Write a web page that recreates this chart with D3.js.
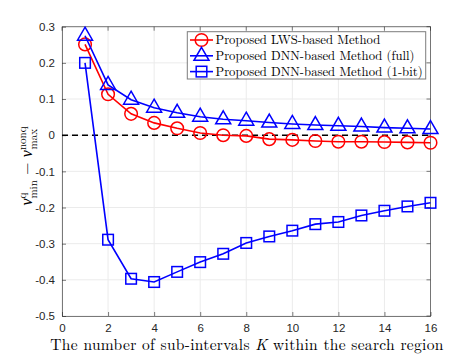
<!DOCTYPE html>
<html>
<head>
<meta charset="utf-8">
<script src="https://cdn.jsdelivr.net/npm/d3@7"></script>
<style>
body { margin: 0; background: #fff; }
</style>
</head>
<body>
<script>
var K = [1, 2, 3, 4, 5, 6, 7, 8, 9, 10, 11, 12, 13, 14, 15, 16];
var lws = [0.251, 0.113, 0.059, 0.034, 0.019, 0.006, 0.0, -0.002, -0.011, -0.013, -0.016, -0.018, -0.018, -0.019, -0.020, -0.021];
var dnnFull = [0.275, 0.139, 0.098, 0.076, 0.062, 0.051, 0.044, 0.040, 0.035, 0.031, 0.028, 0.026, 0.024, 0.021, 0.019, 0.017];
var dnn1bit = [0.200, -0.289, -0.397, -0.406, -0.378, -0.351, -0.328, -0.298, -0.280, -0.264, -0.246, -0.240, -0.222, -0.209, -0.197, -0.187];
var legendLabels = ["Proposed LWS-based Method", "Proposed DNN-based Method (full)", "Proposed DNN-based Method (1-bit)"];
var xTicks = [0, 2, 4, 6, 8, 10, 12, 14, 16];
var yTicks = [-0.5, -0.4, -0.3, -0.2, -0.1, 0, 0.1, 0.2, 0.3];

var svg = d3.select("body").append("svg")
    .attr("width", 476)
    .attr("height", 357);

var pL = 62, pR = 430.5, pT = 26.7, pB = 316;
var x = d3.scaleLinear().domain([0, 16]).range([pL, pR]);
var y = d3.scaleLinear().domain([-0.5, 0.3]).range([pB, pT]);

// grid
var grid = svg.append("g").attr("stroke", "#ebebeb").attr("stroke-width", 1);
grid.selectAll(".gx").data(xTicks).join("line")
    .attr("x1", d => x(d)).attr("x2", d => x(d))
    .attr("y1", pT).attr("y2", pB);
grid.append("g").selectAll("line").data(yTicks).join("line")
    .attr("x1", pL).attr("x2", pR)
    .attr("y1", d => y(d)).attr("y2", d => y(d));

// axes
var tickFont = "'Liberation Sans', Arial, sans-serif";
var xAxis = svg.append("g")
    .attr("transform", "translate(0," + pB + ")")
    .call(d3.axisBottom(x).tickValues(xTicks).tickSizeInner(-4).tickSizeOuter(0).tickPadding(8));
var yAxis = svg.append("g")
    .attr("transform", "translate(" + pL + ",0)")
    .call(d3.axisLeft(y).tickValues(yTicks).tickSizeInner(-4).tickSizeOuter(0).tickPadding(7)
        .tickFormat(d => Math.abs(d) < 1e-9 ? "0" : d3.format(".1f")(d).replace("\u2212", "-")));
[xAxis, yAxis].forEach(function (a) {
    a.select(".domain").attr("stroke", "#262626").attr("stroke-opacity", 0.6);
    a.selectAll(".tick line").attr("stroke", "#262626").attr("stroke-opacity", 0.6);
    a.selectAll(".tick text").attr("fill", "#262626")
        .style("font-family", tickFont).style("font-size", "11.5px");
});
// top and right box
svg.append("line").attr("x1", pL).attr("x2", pR).attr("y1", pT).attr("y2", pT)
    .attr("stroke", "#262626").attr("stroke-opacity", 0.6);
svg.append("line").attr("x1", pR).attr("x2", pR).attr("y1", pT).attr("y2", pB)
    .attr("stroke", "#262626").attr("stroke-opacity", 0.6);
svg.append("g").attr("stroke", "#262626").attr("stroke-opacity", 0.6)
    .selectAll("line").data(xTicks).join("line")
    .attr("x1", d => x(d)).attr("x2", d => x(d)).attr("y1", pT).attr("y2", pT + 4);
svg.append("g").attr("stroke", "#262626").attr("stroke-opacity", 0.6)
    .selectAll("line").data(yTicks).join("line")
    .attr("x1", pR).attr("x2", pR - 4).attr("y1", d => y(d)).attr("y2", d => y(d));

// zero dashed line
svg.append("line")
    .attr("x1", x(0)).attr("x2", x(16)).attr("y1", y(0)).attr("y2", y(0))
    .attr("stroke", "#000").attr("stroke-width", 1.6).attr("stroke-dasharray", "6,4");

var line = d3.line().x(d => x(d[0])).y(d => y(d[1]));
var series = [
    { vals: lws, color: "#ff0000", marker: "circle" },
    { vals: dnnFull, color: "#0000ff", marker: "triangle" },
    { vals: dnn1bit, color: "#0000ff", marker: "square" }
];

function drawMarker(g, type, color) {
    if (type === "circle") {
        g.append("circle").attr("r", 6.3);
    } else if (type === "triangle") {
        g.append("path").attr("d", "M0,-8.5L7.5,4.5L-7.5,4.5Z");
    } else {
        g.append("rect").attr("x", -5.3).attr("y", -5.3).attr("width", 10.6).attr("height", 10.6);
    }
    g.selectAll("*").attr("fill", "none").attr("stroke", color).attr("stroke-width", 1.5);
}

series.forEach(function (s) {
    var pts = K.map((k, i) => [k, s.vals[i]]);
    svg.append("path").datum(pts)
        .attr("d", line)
        .attr("fill", "none").attr("stroke", s.color).attr("stroke-width", 1.6);
    svg.append("g").selectAll("g").data(pts).join("g")
        .attr("transform", d => "translate(" + x(d[0]) + "," + y(d[1]) + ")")
        .each(function () { drawMarker(d3.select(this), s.marker, s.color); });
});

// legend
var serif = "'Latin Modern Roman', 'CMU Serif', 'Liberation Serif', 'DejaVu Serif', serif";
var lg = svg.append("g");
lg.append("rect").attr("x", 187.3).attr("y", 31.7).attr("width", 238.4).attr("height", 47.3)
    .attr("fill", "#fff").attr("stroke", "#262626").attr("stroke-opacity", 0.6);
legendLabels.forEach(function (lab, i) {
    var yy = 40 + i * 15.8;
    var s = series[i];
    lg.append("line").attr("x1", 190).attr("x2", 213).attr("y1", yy).attr("y2", yy)
        .attr("stroke", s.color).attr("stroke-width", 1.6);
    var m = lg.append("g").attr("transform", "translate(201.5," + yy + ")");
    drawMarker(m, s.marker, s.color);
    lg.append("text").attr("x", 215.5).attr("y", yy).attr("dy", "0.35em")
        .style("font-family", serif).style("font-size", "12.7px")
        .attr("fill", "#000")
        .text(lab);
});

// x label
var xl = svg.append("text")
    .attr("x", 247).attr("y", 350)
    .attr("text-anchor", "middle")
    .style("font-family", serif).style("font-size", "15.5px")
    .style("letter-spacing", "0.3px").attr("fill", "#000");
xl.append("tspan").text("The number of sub-intervals ");
xl.append("tspan").style("font-style", "italic").text("K");
xl.append("tspan").text(" within the search region");

// y label
var yl = svg.append("text")
    .attr("transform", "translate(32,166) rotate(-90)")
    .attr("text-anchor", "middle")
    .style("font-family", serif).style("font-size", "16px").attr("fill", "#000");
yl.append("tspan").style("font-style", "italic").text("\u03bd");
yl.append("tspan").attr("dy", -6).style("font-size", "11px").text("q");
yl.append("tspan").attr("dx", -6).attr("dy", 11).style("font-size", "11px").text("min");
yl.append("tspan").attr("dy", -5).text(" \u2212 ");
yl.append("tspan").style("font-style", "italic").text("\u03bd");
yl.append("tspan").attr("dy", -6).style("font-size", "11px").text("nonq");
yl.append("tspan").attr("dx", -23).attr("dy", 11).style("font-size", "11px").text("max");
</script>
</body>
</html>
